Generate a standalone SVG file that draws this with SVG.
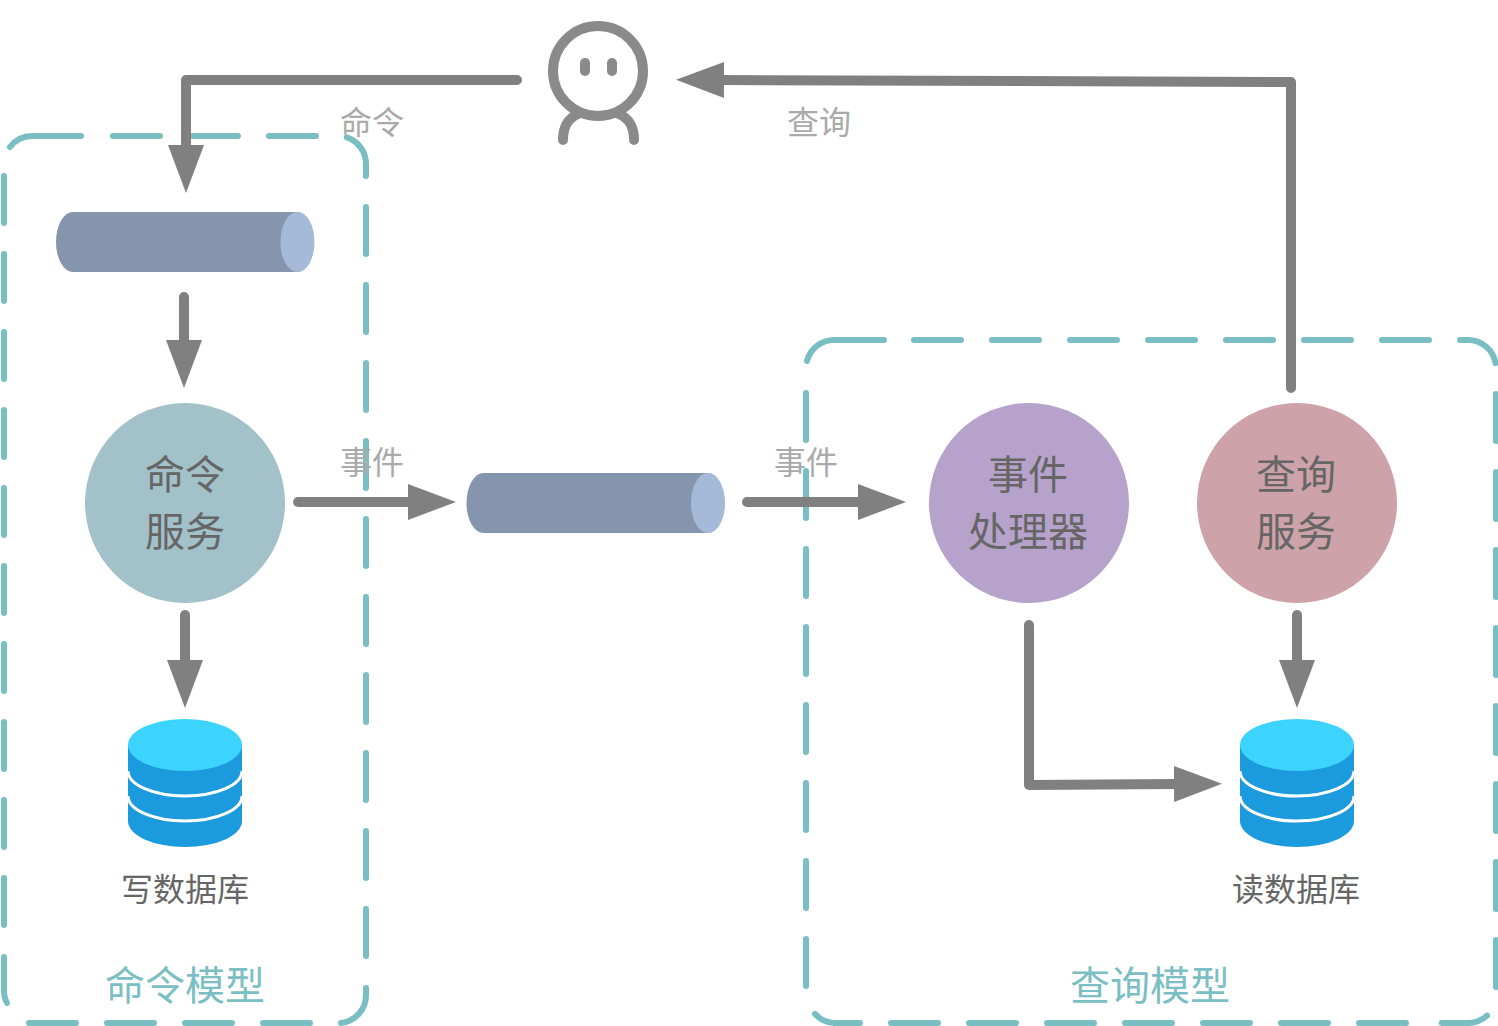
<svg xmlns="http://www.w3.org/2000/svg" width="1498" height="1026" viewBox="0 0 1498 1026">
<defs>
<marker id="head" markerUnits="userSpaceOnUse" markerWidth="48" markerHeight="36" refX="1" refY="18" orient="auto"><path d="M0,0 L48,18 L0,36 Z" fill="#808080"/></marker>
<g id="cyl"><path d="M17,0 H241 A17,30 0 0 1 241,60 H17 A17,30 0 0 1 17,0 Z" fill="#8695ae"/><ellipse cx="241.500" cy="30" rx="17" ry="30" fill="#a5bad9"/></g>
<g id="db"><path d="M0,26 V102 A57,26 0 0 0 114,102 V26 Z" fill="#1b9ade"/><path d="M0,52 A57,25 0 0 0 114,52 M0,77 A57,25 0 0 0 114,77" fill="none" stroke="#fff" stroke-width="3"/><ellipse cx="57" cy="26" rx="57" ry="26" fill="#3dd3ff"/></g>
</defs>
<style>
text{font-family:"Noto Sans CJK SC","Liberation Sans",sans-serif;text-anchor:middle}
.box{fill:none;stroke:#78bec3;stroke-width:6;stroke-linecap:round;stroke-dasharray:47 31}
.corner{fill:none;stroke:#78bec3;stroke-width:6;stroke-linecap:round}
.conn{fill:none;stroke:#808080;stroke-width:10;stroke-linecap:round;stroke-linejoin:round;marker-end:url(#head)}
.lab{font-size:32px;fill:#aaaaaa}
.node{font-size:40px;fill:#666666}
.db{font-size:32px;fill:#666666}
.area{font-size:40px;fill:#7bbfc4}
</style>
<g id="command-model">
<path class="box" d="M113,136 H338 A28,28 0 0 1 366,164 V981 M310,1023 H24 M4,925 V175"/>
<path class="corner" d="M81,136 H32 A28,28 0 0 0 10,147 M366,988 V995 A28,28 0 0 1 341,1023 M4,957 V990 Q4,998 7,1003"/>
<text class="area" x="185" y="1000">命令模型</text></g>
<g id="query-model">
<path class="box" d="M914,340 H1468 A28,28 0 0 1 1496,368 V995 A28,28 0 0 1 1468,1023 H1438 M1406,1023 H885 M806,986 V392"/>
<path class="corner" d="M884,340 H834 A28,28 0 0 0 807,361 M860,1023 H834 A28,28 0 0 1 815,1014"/>
<text class="area" x="1150" y="1000">查询模型</text></g>
<g id="user" fill="none" stroke="#8a8a8a" stroke-width="10" stroke-linecap="round"><circle cx="598" cy="71" r="45"/><path d="M563,140 C563,127 567,119 578,114 M634,140 C634,127 630,119 619,114"/><path d="M585,63 V71 M612,63 V71"/></g>
<g id="command-queue"><use href="#cyl" x="56" y="212"/></g>
<g id="event-queue"><use href="#cyl" x="466.500" y="473"/></g>
<g id="command-service"><circle cx="185" cy="503" r="100" fill="#a2c1c9"/><text class="node" x="185" y="489">命令</text><text class="node" x="185" y="545.500">服务</text></g>
<g id="event-processor"><circle cx="1029" cy="503" r="100" fill="#b7a2cc"/><text class="node" x="1028" y="489">事件</text><text class="node" x="1028" y="545.500">处理器</text></g>
<g id="query-service"><circle cx="1297" cy="503" r="100" fill="#cda2a8"/><text class="node" x="1296" y="489">查询</text><text class="node" x="1296" y="545.500">服务</text></g>
<g id="write-db"><use href="#db" x="128" y="719"/><text class="db" x="185" y="901">写数据库</text></g>
<g id="read-db"><use href="#db" x="1240" y="719"/><text class="db" x="1296" y="901">读数据库</text></g>
<g id="connectors">
<path class="conn" d="M517,80 H186 V146"/>
<path class="conn" d="M1291,388 V82 L723,80"/>
<path class="conn" d="M184,297 V341"/>
<path class="conn" d="M185,615 V661"/>
<path class="conn" d="M298,502 H409"/>
<path class="conn" d="M747,502 H859"/>
<path class="conn" d="M1297,615 V661"/>
<path class="conn" d="M1029,625 V785 L1175,784"/>
</g>
<g id="connector-labels"><text class="lab" x="372" y="133.500">命令</text><text class="lab" x="819" y="133.500">查询</text><text class="lab" x="372" y="473.500">事件</text><text class="lab" x="806" y="473.500">事件</text></g>
</svg>
